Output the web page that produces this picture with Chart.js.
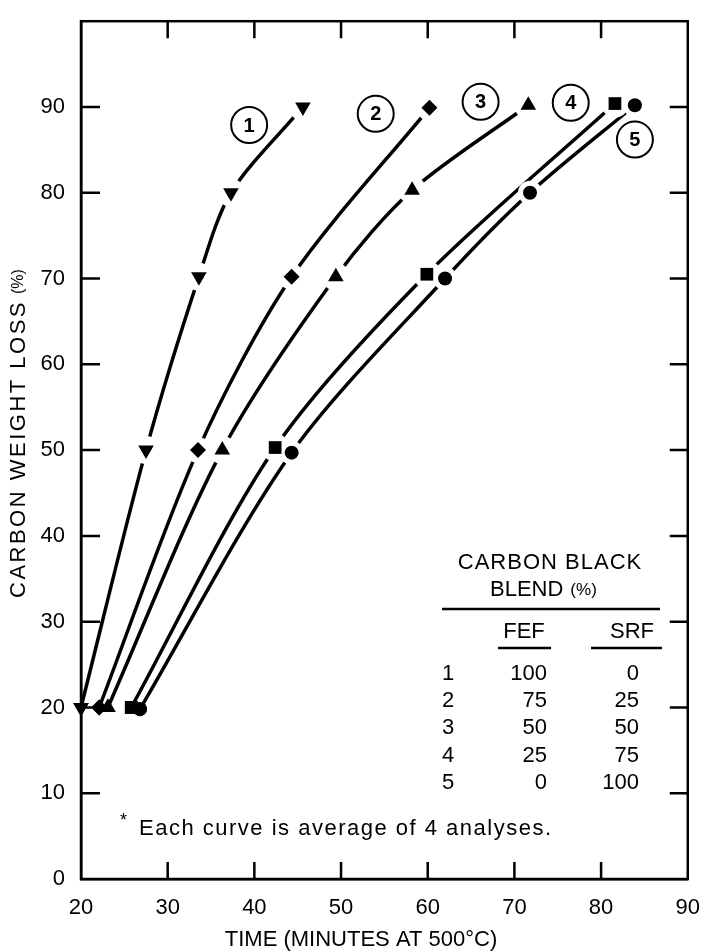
<!DOCTYPE html>
<html>
<head>
<meta charset="utf-8">
<script src="https://cdn.jsdelivr.net/npm/chart.js@4.4.0/dist/chart.umd.min.js"></script>
<style>
  html, body { margin: 0; padding: 0; background: #fff; }
</style>
</head>
<body>
<canvas id="chart" width="708" height="952"></canvas>
<script>

// time (min at 500C) vs carbon weight loss (%) for each blend
const time1 = [20, 27.5, 33.6, 37.3, 45.6];
const loss1 = [20, 50, 70.2, 80, 90];
const time2 = [22.1, 33.5, 44.3, 60.2];
const loss2 = [20, 50, 70.2, 89.9];
const time3 = [23.1, 36.3, 49.4, 58.2, 71.6];
const loss3 = [20, 50, 70.2, 80.3, 90.2];
const time4 = [25.8, 42.4, 59.9, 81.6];
const loss4 = [20, 50.3, 70.5, 90.4];
const time5 = [26.8, 44.3, 62.0, 71.8, 83.9];
const loss5 = [19.8, 49.7, 70, 80, 90.2];

const xTicks = [20, 30, 40, 50, 60, 70, 80, 90];
const yTicks = [0, 10, 20, 30, 40, 50, 60, 70, 80, 90];

// circled curve numbers
const tagText = ['1', '2', '3', '4', '5'];
const tagX = [39.4, 54.0, 66.1, 76.5, 83.9];
const tagY = [87.9, 89.2, 90.6, 90.5, 86.2];

// blend table
const blendId = ['1', '2', '3', '4', '5'];
const fef = ['100', '75', '50', '25', '0'];
const srf = ['0', '25', '50', '75', '100'];

const FONT = '"Liberation Sans", Arial, sans-serif';

function pts(xs, ys) {
  return xs.map((v, i) => ({x: v, y: ys[i]}));
}

function series(xs, ys, style, r, rot) {
  return {
    data: pts(xs, ys),
    borderColor: '#000',
    backgroundColor: '#000',
    borderWidth: 3.5,
    tension: 0.3,
    pointStyle: style,
    pointRotation: rot || 0,
    pointBackgroundColor: '#000',
    pointBorderWidth: 0,
    pointRadius: r,
    pointHoverRadius: r,
    clip: false
  };
}

// white gap round each marker (except the 20 % start points), then redraw the marker
const halo = {
  id: 'halo',
  afterDatasetsDraw(chart) {
    const ctx = chart.ctx;
    const metas = chart.getSortedVisibleDatasetMetas();
    ctx.save();
    ctx.fillStyle = '#fff';
    metas.forEach(m => {
      m.data.forEach((p, i) => {
        if (i === 0) return;
        ctx.beginPath();
        ctx.arc(p.x, p.y, p.options.radius + 5, 0, Math.PI * 2);
        ctx.fill();
      });
    });
    ctx.restore();
    metas.forEach(m => m.data.forEach(p => p.draw(ctx, chart.chartArea)));
  }
};

const decor = {
  id: 'decor',
  afterDraw(chart) {
    const ctx = chart.ctx;
    const a = chart.chartArea;
    const x = chart.scales.x, y = chart.scales.y;
    ctx.save();
    ctx.strokeStyle = '#000';
    ctx.fillStyle = '#000';
    ctx.lineWidth = 2.5;
    ctx.strokeRect(a.left, a.top, a.right - a.left, a.bottom - a.top);

    // ticks pointing inward on all four sides
    ctx.beginPath();
    yTicks.forEach(v => {
      if (v <= 0) return;
      const py = y.getPixelForValue(v);
      ctx.moveTo(a.left, py); ctx.lineTo(a.left + 19, py);
      ctx.moveTo(a.right, py); ctx.lineTo(a.right - 18, py);
    });
    xTicks.forEach(v => {
      if (v <= 20 || v >= 90) return;
      const px = x.getPixelForValue(v);
      ctx.moveTo(px, a.bottom); ctx.lineTo(px, a.bottom - 17);
      ctx.moveTo(px, a.top); ctx.lineTo(px, a.top + 17);
    });
    ctx.stroke();

    // circled numbers
    ctx.lineWidth = 2;
    ctx.textAlign = 'center';
    ctx.textBaseline = 'middle';
    ctx.font = 'bold 20px ' + FONT;
    tagText.forEach((t, i) => {
      const px = x.getPixelForValue(tagX[i]);
      const py = y.getPixelForValue(tagY[i]);
      ctx.beginPath();
      ctx.ellipse(px, py, 18, 18, 0, 0, Math.PI * 2);
      ctx.stroke();
      ctx.fillText(t, px, py + 1);
    });

    // axis titles
    ctx.font = '22px ' + FONT;
    ctx.fillText('TIME (MINUTES AT 500°C)', 361, 940);

    ctx.save();
    ctx.translate(19, 598);
    ctx.rotate(-Math.PI / 2);
    ctx.textAlign = 'left';
    ctx.letterSpacing = '2.5px';
    const main = 'CARBON WEIGHT LOSS';
    ctx.fillText(main, 0, 0);
    const w = ctx.measureText(main).width;
    ctx.letterSpacing = '0px';
    ctx.font = '16px ' + FONT;
    ctx.fillText('(%)', w + 6, 0);
    ctx.restore();

    // footnote
    ctx.textAlign = 'left';
    ctx.font = '18px ' + FONT;
    ctx.fillText('*', 120, 821);
    ctx.font = '22px ' + FONT;
    ctx.letterSpacing = '1.5px';
    ctx.fillText('Each curve is average of 4 analyses.', 139, 829);
    ctx.letterSpacing = '0px';

    // blend table
    ctx.textAlign = 'center';
    ctx.letterSpacing = '1px';
    ctx.fillText('CARBON BLACK', 550, 563);
    ctx.letterSpacing = '0px';
    ctx.textAlign = 'left';
    ctx.fillText('BLEND', 490, 590);
    const bw = ctx.measureText('BLEND').width;
    ctx.font = '17px ' + FONT;
    ctx.fillText('(%)', 490 + bw + 7, 590);
    ctx.font = '22px ' + FONT;
    ctx.textAlign = 'center';
    ctx.fillText('FEF', 524, 632);
    ctx.fillText('SRF', 632, 632);
    ctx.lineWidth = 2.5;
    ctx.beginPath();
    ctx.moveTo(442, 609); ctx.lineTo(660, 609);
    ctx.moveTo(498, 648); ctx.lineTo(551, 648);
    ctx.moveTo(591, 648); ctx.lineTo(662, 648);
    ctx.stroke();
    blendId.forEach((id, i) => {
      const ry = 674 + i * 27.2;
      ctx.textAlign = 'left';
      ctx.fillText(id, 442, ry);
      ctx.textAlign = 'right';
      ctx.fillText(fef[i], 547, ry);
      ctx.fillText(srf[i], 639, ry);
    });
    ctx.restore();
  }
};

new Chart(document.getElementById('chart'), {
  type: 'line',
  data: {
    datasets: [
      series(time1, loss1, 'triangle', 9, 180),
      series(time2, loss2, 'rectRot', 8),
      series(time3, loss3, 'triangle', 9),
      series(time4, loss4, 'rect', 9),
      series(time5, loss5, 'circle', 7)
    ]
  },
  options: {
    responsive: false,
    animation: false,
    layout: { padding: { top: 12, right: 17, left: 0, bottom: 0 } },
    plugins: {
      legend: { display: false },
      tooltip: { enabled: false }
    },
    scales: {
      x: {
        type: 'linear',
        min: 20,
        max: 90,
        afterFit: s => { s.height = 73; },
        grid: { display: false },
        border: { display: true, color: '#000', width: 2.5 },
        ticks: {
          stepSize: 10,
          padding: 8,
          color: '#000',
          font: { family: FONT, size: 22 }
        }
      },
      y: {
        min: 0,
        max: 100,
        afterFit: s => { s.width = 81; },
        grid: { display: false },
        border: { display: true, color: '#000', width: 2.5 },
        ticks: {
          stepSize: 10,
          padding: 8,
          color: '#000',
          font: { family: FONT, size: 22 },
          callback: v => v === 100 ? '' : v
        }
      }
    }
  },
  plugins: [halo, decor]
});
</script>
</body>
</html>
